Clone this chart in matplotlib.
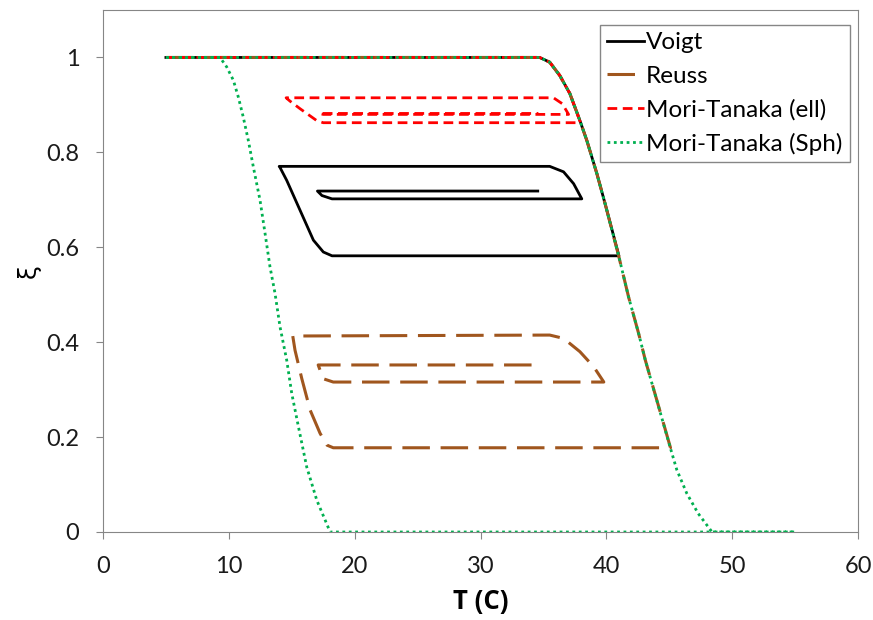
import matplotlib
matplotlib.use("Agg")
import matplotlib.pyplot as plt

plt.rcParams['font.family'] = ['Lato', 'DejaVu Sans']

# shared heating branch (xi drops from 1 to 0)
heat_T = [5, 34.7, 35.5, 36.3, 37.1, 37.9, 38.45, 39.25, 39.9, 40.97, 41.77, 42.57, 43.1, 45.1, 45.6, 46.4, 47.3, 48.4]
heat_xi = [1, 1, 0.99, 0.962, 0.924, 0.867, 0.825, 0.755, 0.692, 0.583, 0.495, 0.418, 0.362, 0.176, 0.131, 0.081, 0.039, 0.0]

# Voigt: partial loops
voigt_T = heat_T[:9] + [41.0, 18.2, 17.51, 16.72, 15.66, 14.6, 14.07, 14.0,
                        35.5, 36.6, 37.4, 38.05, 18.2, 17.4, 17.04, 34.55]
voigt_xi = heat_xi[:9] + [0.582, 0.582, 0.590, 0.615, 0.678, 0.741, 0.768, 0.7705,
                          0.7705, 0.759, 0.734, 0.702, 0.702, 0.709, 0.7185, 0.7185]

# Reuss
reuss_T = heat_T[:13] + [45.1, 18.3, 17.8, 17.25, 16.46, 15.8, 15.26, 15.08,
                         35.5, 36.6, 37.9, 39.0, 39.8, 18.3, 17.5, 17.1, 34.6]
reuss_xi = heat_xi[:13] + [0.1775, 0.1775, 0.183, 0.208, 0.257, 0.323, 0.383, 0.413,
                           0.415, 0.408, 0.380, 0.348, 0.316, 0.316, 0.323, 0.352, 0.352]

# Mori-Tanaka (ellipsoidal)
mte_T = heat_T[:5] + [37.95, 17.5, 16.98, 15.66, 14.86, 14.55,
                      35.8, 36.5, 37.0, 17.5, 17.2, 34.6]
mte_xi = heat_xi[:5] + [0.8625, 0.8625, 0.867, 0.892, 0.908, 0.915,
                        0.915, 0.9025, 0.880, 0.880, 0.882, 0.882]

# Mori-Tanaka (spherical): full loop
cool_T = [55, 18.05, 16.99, 16.19, 15.53, 15.0, 14.6, 14.07, 13.67, 13.27, 12.88, 12.48,
          11.95, 11.55, 11.15, 10.76, 10.36, 9.83, 9.3, 5]
cool_xi = [0, 0.0, 0.067, 0.137, 0.222, 0.292, 0.362, 0.432, 0.503, 0.559, 0.629, 0.699,
           0.769, 0.825, 0.874, 0.916, 0.952, 0.98, 1, 1]
mts_T = heat_T + cool_T
mts_xi = heat_xi + cool_xi

fig = plt.figure(figsize=(8.73, 6.2), dpi=100)
ax = fig.add_axes([103 / 873, 88 / 620, 755 / 873, 522 / 620])

ax.plot(voigt_T, voigt_xi, color='black', lw=2, label='Voigt')
ax.plot(reuss_T, reuss_xi, color='#A0561E', lw=2.2, ls=(0, (9, 3.5)), label='Reuss')
ax.plot(mte_T, mte_xi, color='#FF0000', lw=2, ls=(0, (3.5, 2)), label='Mori-Tanaka (ell)')
ax.plot(mts_T, mts_xi, color='#00B050', lw=2, ls=(0, (1, 1.3)), label='Mori-Tanaka (Sph)')

ax.set_xlim(0, 60)
ax.set_ylim(0, 1.1)
ax.set_xticks([0, 10, 20, 30, 40, 50, 60])
ax.set_yticks([0, 0.2, 0.4, 0.6, 0.8, 1])
ax.set_yticklabels(['0', '0.2', '0.4', '0.6', '0.8', '1'])
for s in ax.spines.values():
    s.set_color('#868686')
ax.tick_params(direction='out', length=5, color='#868686', labelsize=17, labelcolor='#1a1a1a')
ax.tick_params(axis='x', pad=12)
ax.tick_params(axis='y', pad=12)

ax.set_xlabel('T (C)', fontsize=18.5, fontweight='bold', labelpad=8, family='Open Sans')
ax.set_ylabel('ξ', fontsize=18, labelpad=4, family='DejaVu Sans')

leg = ax.legend(loc='upper left', bbox_to_anchor=(0.658, 0.971), borderaxespad=0,
                fontsize=17.5, handlelength=1.5, handletextpad=0.1, fancybox=False,
                framealpha=1, edgecolor='#868686', labelspacing=0.5, borderpad=0.3)
leg.get_frame().set_linewidth(1)

fig.savefig('out.png', dpi=100)
